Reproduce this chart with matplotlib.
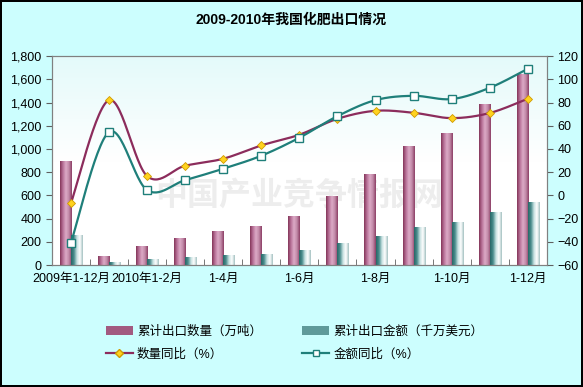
import numpy as np
import matplotlib
matplotlib.use("Agg")
import matplotlib.pyplot as plt
from matplotlib.colors import LinearSegmentedColormap
from matplotlib.ticker import FuncFormatter, MultipleLocator
from matplotlib.lines import Line2D
from matplotlib.patches import Patch

plt.rcParams['font.family'] = ['Liberation Sans', 'Noto Sans CJK SC', 'DejaVu Sans']

# 数据
categories = ["2009年1-12月", "2010年1月", "2010年1-2月", "1-3月", "1-4月", "1-5月",
              "1-6月", "1-7月", "1-8月", "1-9月", "1-10月", "1-11月", "1-12月"]
qty = [900, 80, 165, 233, 293, 336, 422, 594, 784, 1025, 1137, 1387, 1646]      # 万吨
amount = [258, 29, 52, 69, 86, 98, 129, 190, 250, 327, 370, 457, 543]           # 千万美元
qty_yoy = [-6.6, 82.1, 16.7, 25.6, 31.6, 43.1, 52.3, 66.0, 72.9, 71.2, 66.6, 71.0, 83.3]
amt_yoy = [-40.8, 54.6, 4.6, 13.2, 23.0, 34.2, 49.7, 68.3, 82.1, 85.8, 83.0, 92.7, 109.1]
shown_labels = {0: "2009年1-12月", 2: "2010年1-2月", 4: "1-4月", 6: "1-6月",
                8: "1-8月", 10: "1-10月", 12: "1-12月"}

c_qty_line = '#8c2c5c'
c_amt_line = '#1f7f7a'


def smooth(xs, ys, n=30):
    # Bezier smoothing like Excel's "smoothed line"
    xs = np.asarray(xs, float)
    ys = np.asarray(ys, float)
    px = np.concatenate([[xs[0]], xs, [xs[-1]]])
    py = np.concatenate([[ys[0]], ys, [ys[-1]]])
    outx, outy = [], []
    t = np.linspace(0, 1, n)
    for i in range(1, len(px) - 2):
        p0 = np.array([px[i], py[i]])
        p3 = np.array([px[i + 1], py[i + 1]])
        c1 = p0 + (np.array([px[i + 1], py[i + 1]]) - np.array([px[i - 1], py[i - 1]])) / 6
        c2 = p3 - (np.array([px[i + 2], py[i + 2]]) - np.array([px[i], py[i]])) / 6
        b = ((1 - t) ** 3)[:, None] * p0 + (3 * (1 - t) ** 2 * t)[:, None] * c1 \
            + (3 * (1 - t) * t ** 2)[:, None] * c2 + (t ** 3)[:, None] * p3
        outx.extend(b[:, 0])
        outy.extend(b[:, 1])
    return outx, outy


fig = plt.figure(figsize=(5.83, 3.87), dpi=100)
fig.patch.set_facecolor('#ccfefe')
fig.patch.set_edgecolor('black')
fig.patch.set_linewidth(1.5)

ax = fig.add_axes([0.089, 0.315, 0.849, 0.54])
x = np.arange(len(categories))

# 绘图区渐变背景
bg = np.linspace(1, 0, 100).reshape(-1, 1)
ax.imshow(bg, cmap=LinearSegmentedColormap.from_list('bg', ['#ffffff', '#ffffff', '#e4fafa']),
          extent=(0, 1, 0, 1), transform=ax.transAxes, aspect='auto', zorder=0)

# 水印
ax.text(0.5, 0.33, "中国产业竞争情报网", transform=ax.transAxes, ha='center', va='center',
        fontsize=23, color='#ededed', fontweight='bold', family='Noto Sans CJK SC', zorder=0.5)

w = 0.29
cm_qty = LinearSegmentedColormap.from_list('q', ['#843659', '#b9739a', '#dcaac6', '#c28aa8', '#8d3f66'])
cm_amt = LinearSegmentedColormap.from_list('a', ['#276767', '#4a8c8c', '#c8e2e2', '#ffffff', '#a4c2c2'])
grad = np.linspace(0, 1, 64).reshape(1, -1)

bars1 = ax.bar(x - w / 2, qty, w, color='#b06a8e', zorder=2)
bars2 = ax.bar(x + w / 2, amount, w, color='#6fa6a6', zorder=2)
for bars, cm in ((bars1, cm_qty), (bars2, cm_amt)):
    for b in bars:
        b.set_facecolor('none')
        b.set_edgecolor('none')
        x0, y0 = b.get_x(), b.get_y()
        im = ax.imshow(grad, cmap=cm, extent=(x0, x0 + b.get_width(), y0, y0 + b.get_height()),
                       aspect='auto', zorder=2)
        im.set_clip_path(b)

ax.set_xlim(-0.5, len(categories) - 0.5)
ax.set_ylim(0, 1800)
ax.yaxis.set_major_locator(MultipleLocator(200))
ax.yaxis.set_major_formatter(FuncFormatter(lambda v, p: f"{int(v):,}"))
ax.set_xticks(list(shown_labels.keys()))
ax.set_xticklabels(list(shown_labels.values()))
ax.set_xticks(np.arange(-0.5, len(categories), 1), minor=True)
ax.tick_params(axis='x', which='major', length=0, labelsize=9, pad=6)
ax.tick_params(axis='x', which='minor', direction='in', length=4, color='#606060')
ax.tick_params(axis='y', labelsize=9, length=4, color='#606060')
for s in ax.spines.values():
    s.set_color('#808080')

ax2 = ax.twinx()
sx, sy = smooth(x, qty_yoy)
ax2.plot(sx, sy, color=c_qty_line, lw=1.6, zorder=3)
ax2.plot(x, qty_yoy, ls='none', marker='D', ms=4.5, mfc='#ffd21f', mec='#d09a00', mew=0.6, zorder=4)
sx, sy = smooth(x, amt_yoy)
ax2.plot(sx, sy, color=c_amt_line, lw=1.6, zorder=3)
ax2.plot(x, amt_yoy, ls='none', marker='s', ms=6, mfc='white', mec=c_amt_line, mew=1.0, zorder=4)
ax2.set_ylim(-60, 120)
ax2.yaxis.set_major_locator(MultipleLocator(20))
ax2.tick_params(axis='y', labelsize=9, length=4, color='#606060')
for s in ax2.spines.values():
    s.set_color('#808080')

fig.text(0.5, 0.948, "2009-2010年我国化肥出口情况", ha='center', va='center',
         fontsize=10, fontweight='heavy')

handles = [Patch(facecolor='#a25a80'),
           Line2D([], [], color=c_qty_line, lw=1.6, marker='D', ms=4, mfc='#ffd21f', mec='#d09a00'),
           Patch(facecolor='#5f9a9a'),
           Line2D([], [], color=c_amt_line, lw=1.6, marker='s', ms=4.5, mfc='white', mec=c_amt_line)]
labels = ["累计出口数量（万吨）", "数量同比（%）", "累计出口金额（千万美元）", "金额同比（%）"]
fig.legend(handles, labels, ncol=2, loc='center', bbox_to_anchor=(0.505, 0.114),
           frameon=False, fontsize=9, handlelength=2.2, handleheight=0.7,
           columnspacing=3.2, labelspacing=0.85, handletextpad=0.3)

fig.savefig("out.png", dpi=100, facecolor=fig.get_facecolor(), edgecolor=fig.get_edgecolor())
